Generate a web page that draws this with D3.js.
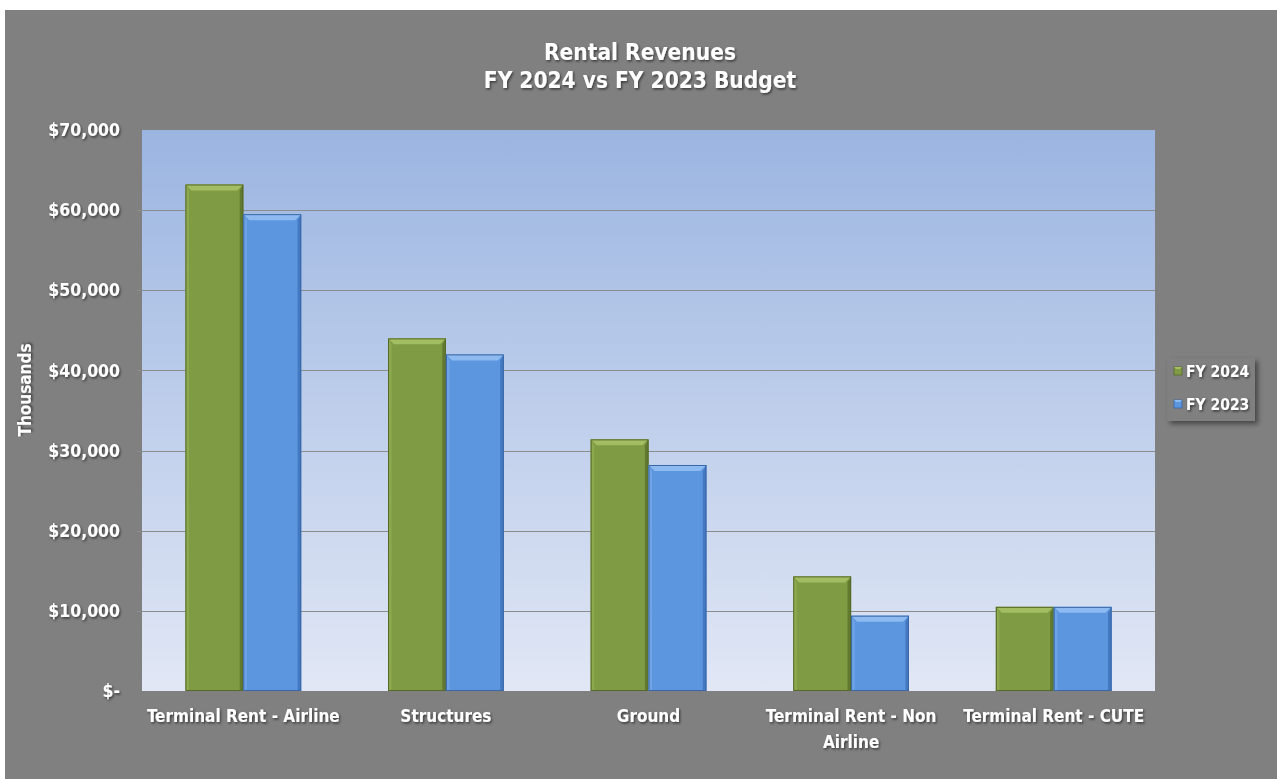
<!DOCTYPE html>
<html>
<head>
<meta charset="utf-8">
<script src="https://cdn.jsdelivr.net/npm/d3@7"></script>
<style>
  html, body { margin: 0; padding: 0; background: #ffffff; }
  svg { display: block; }
  text { font-family: "DejaVu Sans Condensed", "DejaVu Sans", Tahoma, sans-serif; font-weight: bold; fill: #ffffff; }
</style>
</head>
<body>
<svg id="chart" width="1277" height="779"></svg>
<script>
// Rental revenue categories and budget values (thousands of dollars)
const categories = [
  "Terminal Rent - Airline",
  "Structures",
  "Ground",
  "Terminal Rent - Non Airline",
  "Terminal Rent - CUTE"
];
const fy2024 = [63200, 44000, 31400, 14300, 10500];
const fy2023 = [59500, 42000, 28200, 9400, 10500];
const seriesNames = ["FY 2024", "FY 2023"];
const yTicks = [0, 10000, 20000, 30000, 40000, 50000, 60000, 70000];
const titleLines = ["Rental Revenues", "FY 2024 vs FY 2023 Budget"];
const yTitle = "Thousands";

const W = 1277, H = 779;
const plot = { left: 142, top: 130, right: 1155, bottom: 691 };
const FONT = '"DejaVu Sans Condensed", "DejaVu Sans", sans-serif';

const svg = d3.select("#chart");
const defs = svg.append("defs");

// soft drop shadow under white text
const ts = defs.append("filter").attr("id", "textShadow")
  .attr("x", "-10%").attr("y", "-30%").attr("width", "120%").attr("height", "160%");
ts.append("feDropShadow").attr("dx", 1.2).attr("dy", 1.5).attr("stdDeviation", 1)
  .attr("flood-color", "#000").attr("flood-opacity", 0.55);

const bs = defs.append("filter").attr("id", "boxShadow")
  .attr("x", "-20%").attr("y", "-20%").attr("width", "150%").attr("height", "150%");
bs.append("feDropShadow").attr("dx", 3).attr("dy", 3).attr("stdDeviation", 2.5)
  .attr("flood-color", "#000").attr("flood-opacity", 0.45);

const bg = defs.append("linearGradient").attr("id", "plotBg")
  .attr("x1", 0).attr("y1", 0).attr("x2", 0).attr("y2", 1);
bg.append("stop").attr("offset", "0%").attr("stop-color", "#9bb5e1");
bg.append("stop").attr("offset", "100%").attr("stop-color", "#e1e7f5");

// chart area
svg.append("rect").attr("x", 5).attr("y", 10).attr("width", W - 5).attr("height", H - 10)
  .attr("fill", "#808080");

svg.append("rect")
  .attr("x", plot.left).attr("y", plot.top)
  .attr("width", plot.right - plot.left).attr("height", plot.bottom - plot.top)
  .attr("fill", "url(#plotBg)");

// scales
const x0 = d3.scaleBand().domain(categories).range([plot.left, plot.right]).paddingInner(0).paddingOuter(0);
const groupW = x0.bandwidth() * (2 / 3.5);
const x1 = d3.scaleBand().domain(seriesNames).range([0, groupW]).padding(0);
const y = d3.scaleLinear().domain([0, 70000]).range([plot.bottom, plot.top]);

// gridlines
svg.append("g").selectAll("line").data(yTicks.filter(t => t > 0 && t < 70000)).join("line")
  .attr("x1", plot.left - 5).attr("x2", plot.right)
  .attr("y1", d => Math.round(y(d)) + 0.5).attr("y2", d => Math.round(y(d)) + 0.5)
  .attr("stroke", "#8c8c8c").attr("stroke-width", 1);

// y axis labels
const fmt = d => d === 0 ? "$-" : "$" + d3.format(",")(d);
const yAxis = d3.axisLeft(y).tickValues(yTicks).tickFormat(fmt).tickSize(0).tickPadding(22);
const yg = svg.append("g").attr("transform", `translate(${plot.left},0)`).call(yAxis);
yg.select(".domain").remove();
yg.selectAll("text").attr("font-size", 17.5)
  .style("font-family", FONT)
  .attr("fill", "#fff").attr("filter", "url(#textShadow)");

// y axis title
svg.append("text")
  .attr("transform", `translate(31,390) rotate(-90)`)
  .attr("text-anchor", "middle").attr("font-size", 17)
  .attr("filter", "url(#textShadow)")
  .text(yTitle);

// bars with bevelled edges
const palette = {
  "FY 2024": { base: "#7f9b43", light: "#a2bd62", dark: "#627a30", edge: "#56692a" },
  "FY 2023": { base: "#5b96df", light: "#8dbaf0", dark: "#4479c2", edge: "#3a67a6" }
};
const rows = [];
categories.forEach((c, i) => {
  rows.push({ cat: c, series: "FY 2024", value: fy2024[i] });
  rows.push({ cat: c, series: "FY 2023", value: fy2023[i] });
});
const offset = (x0.bandwidth() - groupW) / 2;
const bev = 6;
const barG = svg.append("g").selectAll("g").data(rows).join("g")
  .attr("transform", d => `translate(${x0(d.cat) + offset + x1(d.series)},0)`);

barG.each(function (d) {
  const g = d3.select(this);
  const w = x1.bandwidth();
  const top = y(d.value), bot = y(0);
  const p = palette[d.series];
  g.append("rect").attr("x", 0).attr("y", top).attr("width", w).attr("height", bot - top)
    .attr("fill", p.base);
  // top bevel
  g.append("polygon")
    .attr("points", [[0, top], [w, top], [w - bev, top + bev], [bev, top + bev]].map(q => q.join(",")).join(" "))
    .attr("fill", p.light);
  // left bevel
  g.append("polygon")
    .attr("points", [[0, top], [bev * 0.6, top + bev], [bev * 0.6, bot], [0, bot]].map(q => q.join(",")).join(" "))
    .attr("fill", p.light).attr("opacity", 0.4);
  // right bevel
  g.append("polygon")
    .attr("points", [[w, top], [w - bev * 0.6, top + bev], [w - bev * 0.6, bot], [w, bot]].map(q => q.join(",")).join(" "))
    .attr("fill", p.dark);
  g.append("rect").attr("x", 0.5).attr("y", top + 0.5).attr("width", w - 1).attr("height", bot - top - 1)
    .attr("fill", "none").attr("stroke", p.edge).attr("stroke-width", 1);
});

// category labels, wrapped to the band width
const xAxis = d3.axisBottom(x0).tickSize(0).tickPadding(19);
const xg = svg.append("g").attr("transform", `translate(0,${plot.bottom})`).call(xAxis);
xg.select(".domain").remove();
xg.selectAll("text").attr("font-size", 17)
  .attr("fill", "#fff").attr("filter", "url(#textShadow)")
  .style("font-family", FONT)
  .each(function (d) { wrap(d3.select(this), x0.bandwidth()); });

function wrap(text, width) {
  const words = text.text().split(/\s+/);
  const yAttr = text.attr("y"), dy = parseFloat(text.attr("dy")) || 0;
  text.text(null);
  let line = [], lineNo = 0;
  let tspan = text.append("tspan").attr("x", 0).attr("y", yAttr).attr("dy", dy + "em");
  for (const w of words) {
    line.push(w);
    tspan.text(line.join(" "));
    if (tspan.node().getComputedTextLength() > width && line.length > 1) {
      line.pop();
      tspan.text(line.join(" "));
      line = [w];
      lineNo++;
      tspan = text.append("tspan").attr("x", 0).attr("y", yAttr)
        .attr("dy", (dy + lineNo * 1.5) + "em").text(w);
    }
  }
}

// title
const title = svg.append("text").attr("text-anchor", "middle").attr("font-size", 22.5)
  .attr("filter", "url(#textShadow)");
titleLines.forEach((t, i) => {
  title.append("tspan").attr("x", 640).attr("y", 60 + i * 28).text(t);
});

// legend
const lg = svg.append("g").attr("transform", "translate(1167,358)");
lg.append("rect").attr("width", 88).attr("height", 63).attr("fill", "#808080")
  .attr("filter", "url(#boxShadow)");
seriesNames.forEach((s, i) => {
  const row = lg.append("g").attr("transform", `translate(7,${13 + i * 33})`);
  row.append("rect").attr("x", 0).attr("y", -4).attr("width", 8).attr("height", 8)
    .attr("fill", palette[s].base).attr("stroke", palette[s].edge).attr("stroke-width", 0.8);
  row.append("polygon").attr("points", "0,-4 8,-4 6,-2 2,-2").attr("fill", palette[s].light);
  row.append("text").attr("x", 12).attr("y", 6).attr("font-size", 15.5)
    .attr("filter", "url(#textShadow)").text(s);
});
</script>
</body>
</html>
